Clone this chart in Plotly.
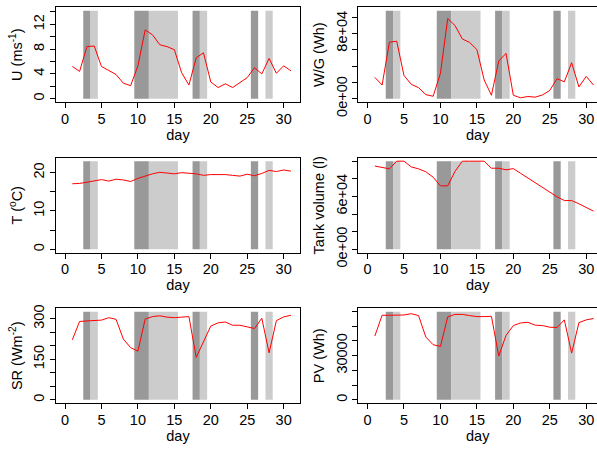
import plotly.graph_objects as go

days = list(range(1, 32))

wind_speed = [5.2, 4.4, 8.4, 8.5, 5.2, 4.5, 3.9, 2.5, 2.1, 5.3, 11.1, 10.3, 8.7, 8.4, 7.9, 4.2,
              2.2, 6.6, 7.4, 2.7, 1.8, 2.4, 1.8, 2.6, 3.4, 5.0, 4.0, 6.5, 4.1, 5.3, 4.5]
wind_gen = [26100, 16800, 69300, 70500, 28500, 17600, 13600, 5000, 3000, 30900, 98400, 89700,
            73300, 69000, 60300, 23000, 4200, 46200, 55600, 4200, 1100, 2700, 1900, 4600,
            10100, 24600, 20700, 44200, 14400, 27400, 16800]
temperature = [17.1, 17.2, 17.5, 17.8, 18.2, 17.8, 18.3, 18.1, 17.7, 18.5, 19.2, 19.7, 20.1,
               19.9, 19.7, 20.0, 19.9, 19.7, 19.3, 19.5, 19.5, 19.5, 19.3, 19.1, 19.6, 19.2,
               19.8, 20.6, 20.3, 20.7, 20.4]
tank_volume = [94500, 93100, 91300, 100000, 100000, 93500, 91300, 88000, 81800, 72000, 72000,
               88400, 100000, 100000, 100000, 100000, 92000, 92000, 90200, 91600, 86200, 80700,
               75600, 70200, 64700, 59600, 55300, 55300, 51600, 47300, 43300]
solar_rad = [222, 290, 292, 294, 295, 304, 298, 225, 193, 180, 299, 308, 311, 306, 304, 306,
             308, 157, 216, 273, 285, 288, 276, 276, 270, 264, 302, 174, 293, 307, 313]
pv_gen = [43300, 57400, 57400, 57400, 57600, 58500, 57200, 42600, 37400, 36300, 56300, 58000,
          58000, 57200, 56500, 56500, 56700, 29800, 43700, 50400, 52200, 52600, 50700, 50400,
          49300, 49100, 54300, 31700, 52400, 54300, 55200]

dark_periods = [(2.5, 3.5), (9.5, 11.5), (17.5, 18.5), (25.5, 26.5)]
light_periods = [(3.5, 4.5), (11.5, 15.5), (18.5, 19.5), (27.5, 28.5)]

x_ticks = [0, 5, 10, 15, 20, 25, 30]

# all tick marks, then the ones R kept a label for
u_ticks = [0, 2, 4, 6, 8, 10, 12, 14]
u_labelled = {0: "0", 4: "4", 8: "8", 12: "12"}
wg_ticks = [0, 20000, 40000, 60000, 80000, 100000]
wg_labelled = {0: "0e+00", 80000: "8e+04"}
t_ticks = [0, 5, 10, 15, 20]
t_labelled = {0: "0", 10: "10", 20: "20"}
tank_ticks = [0, 20000, 40000, 60000, 80000, 100000]
tank_labelled = {0: "0e+00", 60000: "6e+04"}
sr_ticks = [0, 50, 100, 150, 200, 250, 300]
sr_labelled = {0: "0", 150: "150", 300: "300"}
pv_ticks = [0, 10000, 20000, 30000, 40000, 50000, 60000]
pv_labelled = {0: "0", 30000: "30000"}

# upper limit of each panel (shading reaches up to it)
y_max = [14.2, 108000, 23, 100000, 326, 59800]

panels = [
    (wind_speed, "U (ms<sup>-1</sup>)", u_ticks, u_labelled),
    (wind_gen, "W/G (Wh)", wg_ticks, wg_labelled),
    (temperature, "T (<sup>o</sup>C)", t_ticks, t_labelled),
    (tank_volume, "Tank volume (l)", tank_ticks, tank_labelled),
    (solar_rad, "SR (Wm<sup>-2</sup>)", sr_ticks, sr_labelled),
    (pv_gen, "PV (Wh)", pv_ticks, pv_labelled),
]

col_domains = [[0.0938, 0.5025], [0.6005, 1.0]]
row_domains = [[0.7745, 0.9906], [0.4323, 0.6485], [0.0902, 0.3063]]
x_ranges = [[-1.24, 32.24], [-1.24, 31.48]]

font = dict(family="Liberation Sans, Arial, sans-serif", size=14.5, color="black")

fig = go.Figure()
layout = {}
shapes = []

for i, (values, title, ticks, labelled) in enumerate(panels):
    n = i + 1
    col = i % 2
    row = i // 2
    ymax = y_max[i]

    fig.add_trace(go.Scatter(
        x=days, y=values, mode="lines",
        line=dict(color="red", width=1),
        xaxis=f"x{n}", yaxis=f"y{n}", showlegend=False,
    ))

    for periods, colour in [(dark_periods, "#999999"), (light_periods, "#cccccc")]:
        for start, end in periods:
            shapes.append(dict(
                type="rect", xref=f"x{n}", yref=f"y{n}",
                x0=start, x1=end, y0=0, y1=ymax,
                fillcolor=colour, line=dict(width=0), layer="below",
            ))

    layout[f"xaxis{n}"] = dict(
        domain=col_domains[col], anchor=f"y{n}", range=x_ranges[col],
        tickvals=x_ticks, ticks="outside", ticklen=5, tickcolor="black",
        ticklabelstandoff=-2,
        showline=True, linecolor="black", linewidth=1, mirror=True,
        showgrid=False, zeroline=False, tickfont=font,
        title=dict(text="day", font=font, standoff=0),
    )
    layout[f"yaxis{n}"] = dict(
        domain=row_domains[row], anchor=f"x{n}",
        range=[-0.04 * ymax, 1.04 * ymax],
        tickvals=list(labelled.keys()), ticktext=list(labelled.values()), tickangle=-90,
        ticks="outside", ticklen=5, tickcolor="black",
        minor=dict(tickvals=[t for t in ticks if t not in labelled],
                   ticks="outside", ticklen=5, tickcolor="black", showgrid=False),
        showline=True, linecolor="black", linewidth=1, mirror=(col == 0),
        showgrid=False, zeroline=False, tickfont=font,
        title=dict(text=title, font=font, standoff=5),
    )

fig.update_layout(
    width=597, height=458,
    margin=dict(l=0, r=0, t=0, b=0),
    paper_bgcolor="white", plot_bgcolor="white",
    shapes=shapes, font=font,
    **layout,
)

fig.write_html(
    "out.html",
    config={"displayModeBar": False},
    post_script="document.body.style.margin = '0';",
)
